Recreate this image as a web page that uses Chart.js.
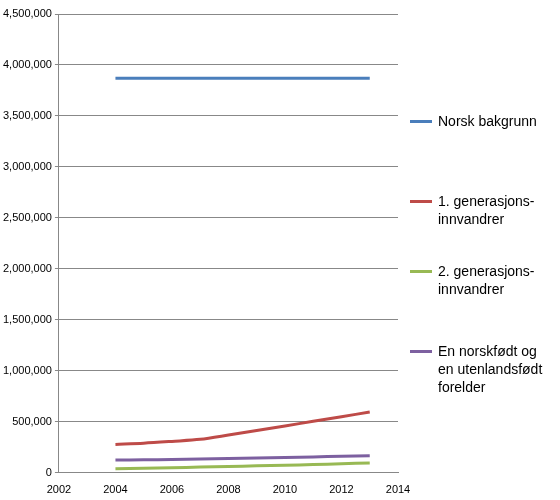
<!DOCTYPE html>
<html><head><meta charset="utf-8">
<script src="https://cdn.jsdelivr.net/npm/chart.js@4"></script>
<style>
body{margin:0;background:#fff;font-family:"Liberation Sans",sans-serif}
#wrap{position:relative;width:560px;height:500px}
#c{position:absolute;left:0;top:0}
.lg{position:absolute;left:410px;font-size:14px;color:#000;line-height:18px}
.lg span{display:inline-block;width:22px;height:3px;vertical-align:middle;margin-right:6px;position:relative;top:-1px}
.lg div{padding-left:28px;text-indent:-28px}
</style></head><body>
<div id="wrap"><canvas id="c" width="560" height="500"></canvas>
<div class="lg" id="legend"></div></div>
<script>
const years=[2004,2005,2006,2007,2008,2009,2010,2011,2012,2013];
const norsk=[3870000,3870000,3870000,3870000,3870000,3870000,3870000,3870000,3870000,3870000];
const gen1=[278000,290000,308000,328000,370000,415000,460000,505000,550000,596000];
const gen2=[39000,44000,50000,56000,62000,68000,74000,81000,89000,96000];
const mixed=[125000,127000,130000,135000,140000,145000,150000,156000,162000,168000];
const names=["Norsk bakgrunn","1. generasjons-innvandrer","2. generasjons-innvandrer","En norskfødt og en utenlandsfødt forelder"];
const colors=["#4a7ebb","#be4b48","#98b954","#7d60a0"];
const series=[norsk,gen1,gen2,mixed];
const legendTops=[112,192,262,342];
const legendHtml=[["Norsk bakgrunn"],["1. generasjons-","innvandrer"],["2. generasjons-","innvandrer"],["En norskfødt og","en utenlandsfødt","forelder"]];
const lg=document.getElementById('legend');
lg.style.top='0px';
legendHtml.forEach((l,i)=>{const d=document.createElement('div');d.style.position='absolute';d.style.top=legendTops[i]+'px';d.style.width='150px';
d.innerHTML='<span style="background:'+colors[i]+'"></span>'+l.join('<br>');lg.appendChild(d);});
new Chart(document.getElementById('c'),{type:'line',
data:{datasets:series.map((s,i)=>({label:names[i],data:years.map((y,j)=>({x:y,y:s[j]})),borderColor:colors[i],borderWidth:3,pointRadius:0,tension:0.3,fill:false}))},
options:{responsive:false,animation:false,layout:{padding:{top:14,right:162,left:0,bottom:0}},
plugins:{legend:{display:false},tooltip:{enabled:false}},
scales:{x:{type:'linear',min:2002,max:2014,ticks:{stepSize:2,color:'#000',font:{size:11,family:'Liberation Sans'},callback:v=>String(v)},grid:{display:false,drawTicks:true},border:{color:'#888'}},
y:{min:0,max:4500000,ticks:{stepSize:500000,color:'#000',font:{size:11,family:'Liberation Sans'}},grid:{color:'#888',tickLength:4},border:{color:'#888'}}}}});
</script></body></html>
